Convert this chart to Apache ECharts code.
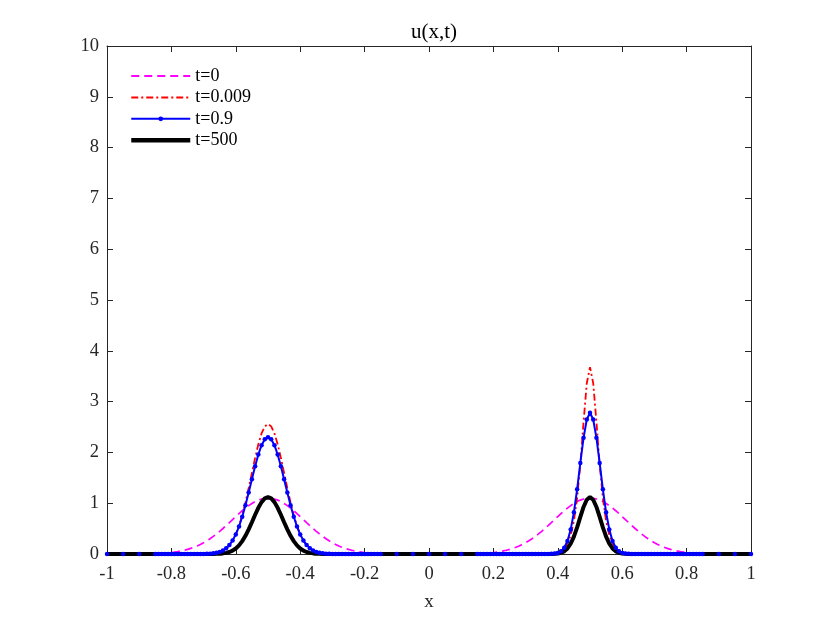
<!DOCTYPE html>
<html>
<head>
<meta charset="utf-8">
<script src="https://cdn.jsdelivr.net/npm/echarts@6/dist/echarts.min.js"></script>
<style>html,body{margin:0;padding:0;background:#fff;}#c{width:830px;height:623px;}</style>
</head>
<body>
<div id="c"></div>
<script>
var seriesNames = ['t=0', 't=0.009', 't=0.9', 't=500'];
var xTicks = [-1, -0.8, -0.6, -0.4, -0.2, 0, 0.2, 0.4, 0.6, 0.8, 1];
var yTicks = [0, 1, 2, 3, 4, 5, 6, 7, 8, 9, 10];

var xs = [-1,-0.95,-0.9,
-0.85,-0.84,-0.83,-0.82,-0.81,-0.8,-0.79,-0.78,-0.77,-0.76,
-0.75,-0.74,-0.73,-0.72,-0.71,-0.7,-0.69,-0.68,-0.67,-0.66,
-0.65,-0.64,-0.63,-0.62,-0.61,-0.6,-0.59,-0.58,-0.57,-0.56,
-0.55,-0.54,-0.53,-0.52,-0.51,-0.5,-0.49,-0.48,-0.47,-0.46,
-0.45,-0.44,-0.43,-0.42,-0.41,-0.4,-0.39,-0.38,-0.37,-0.36,
-0.35,-0.34,-0.33,-0.32,-0.31,-0.3,-0.29,-0.28,-0.27,-0.26,
-0.25,-0.24,-0.23,-0.22,-0.21,-0.2,-0.19,-0.18,-0.17,-0.16,
-0.15,
-0.1,-0.05,0,0.05,0.1,
0.15,0.16,0.17,0.18,0.19,0.2,0.21,0.22,0.23,0.24,
0.25,0.26,0.27,0.28,0.29,0.3,0.31,0.32,0.33,0.34,
0.35,0.36,0.37,0.38,0.39,0.4,0.41,0.42,0.43,0.44,
0.45,0.46,0.47,0.48,0.49,0.5,0.51,0.52,0.53,0.54,
0.55,0.56,0.57,0.58,0.59,0.6,0.61,0.62,0.63,0.64,
0.65,0.66,0.67,0.68,0.69,0.7,0.71,0.72,0.73,0.74,
0.75,0.76,0.77,0.78,0.79,0.8,0.81,0.82,0.83,0.84,
0.85,
0.9,0.95,1];

var u_t0 = [0,0,0,
0.008,0.011,0.014,0.018,0.024,0.030,0.038,0.048,0.060,0.074,
0.090,0.110,0.133,0.159,0.189,0.222,0.260,0.301,0.346,0.395,
0.447,0.502,0.559,0.618,0.678,0.737,0.796,0.852,0.904,0.952,
0.995,1.032,1.061,1.083,1.096,1.100,1.096,1.083,1.061,1.032,
0.995,0.952,0.904,0.852,0.796,0.737,0.678,0.618,0.559,0.502,
0.447,0.395,0.346,0.301,0.260,0.222,0.189,0.159,0.133,0.110,
0.090,0.074,0.060,0.048,0.038,0.030,0.024,0.018,0.014,0.011,
0.008,
0,0,0,0,0,
0.008,0.011,0.014,0.018,0.024,0.030,0.038,0.048,0.060,0.074,
0.090,0.110,0.133,0.159,0.189,0.222,0.260,0.301,0.346,0.395,
0.447,0.502,0.559,0.618,0.678,0.737,0.796,0.852,0.904,0.952,
0.995,1.032,1.061,1.083,1.096,1.100,1.096,1.083,1.061,1.032,
0.995,0.952,0.904,0.852,0.796,0.737,0.678,0.618,0.559,0.502,
0.447,0.395,0.346,0.301,0.260,0.222,0.189,0.159,0.133,0.110,
0.090,0.074,0.060,0.048,0.038,0.030,0.024,0.018,0.014,0.011,
0.008,
0,0,0];

var u_t0009 = [0,0,0,
0,0,0,0,0,0,0,0,0,0,
0,0,0,0,0,0.001,0.003,0.006,0.011,0.020,
0.037,0.063,0.105,0.169,0.261,0.388,0.555,0.765,1.016,1.298,
1.597,1.893,2.160,2.374,2.512,2.560,2.512,2.374,2.160,1.893,
1.597,1.298,1.016,0.765,0.555,0.388,0.261,0.169,0.105,0.063,
0.037,0.020,0.011,0.006,0.003,0.001,0,0,0,0,
0,0,0,0,0,0,0,0,0,0,
0,
0,0,0,0,0,
0,0,0,0,0,0,0,0,0,0,
0,0,0,0,0,0,0,0,0,0,
0.002,0.003,0.006,0.010,0.019,0.034,0.062,0.114,0.207,0.368,
0.651,1.099,1.767,2.598,3.362,3.680,3.362,2.598,1.767,1.099,
0.651,0.368,0.207,0.114,0.062,0.034,0.019,0.010,0.006,0.003,
0.002,0,0,0,0,0,0,0,0,0,
0,0,0,0,0,0,0,0,0,0,
0,
0,0,0];

var u_t09 = [0,0,0,
0,0,0,0,0,0,0,0,0,0,
0,0,0,0,0,0.002,0.004,0.007,0.013,0.024,
0.041,0.069,0.112,0.176,0.265,0.386,0.541,0.733,0.959,1.209,
1.472,1.728,1.958,2.142,2.259,2.300,2.259,2.142,1.958,1.728,
1.472,1.209,0.959,0.733,0.541,0.386,0.265,0.176,0.112,0.069,
0.041,0.024,0.013,0.007,0.004,0.002,0,0,0,0,
0,0,0,0,0,0,0,0,0,0,
0,
0,0,0,0,0,
0,0,0,0,0,0,0,0,0,0,
0,0,0,0,0,0,0,0,0,0,
0,0,0.001,0.003,0.008,0.021,0.053,0.123,0.255,0.480,
0.821,1.274,1.792,2.287,2.648,2.780,2.648,2.287,1.792,1.274,
0.821,0.480,0.255,0.123,0.053,0.021,0.008,0.003,0.001,0,
0,0,0,0,0,0,0,0,0,0,
0,0,0,0,0,0,0,0,0,0,
0,
0,0,0];

var u_t500 = [0,0,0,
0,0,0,0,0,0,0,0,0,0,
0,0,0,0,0,0,0,0,0.001,0.003,
0.006,0.012,0.022,0.039,0.067,0.109,0.170,0.253,0.358,0.485,
0.626,0.772,0.909,1.021,1.094,1.120,1.094,1.021,0.909,0.772,
0.626,0.485,0.358,0.253,0.170,0.109,0.067,0.039,0.022,0.012,
0.006,0.003,0.001,0,0,0,0,0,0,0,
0,0,0,0,0,0,0,0,0,0,
0,
0,0,0,0,0,
0,0,0,0,0,0,0,0,0,0,
0,0,0,0,0,0,0,0,0,0,
0,0,0,0.001,0.003,0.010,0.024,0.053,0.109,0.202,
0.341,0.523,0.730,0.926,1.068,1.120,1.068,0.926,0.730,0.523,
0.341,0.202,0.109,0.053,0.024,0.010,0.003,0.001,0,0,
0,0,0,0,0,0,0,0,0,0,
0,0,0,0,0,0,0,0,0,0,
0,
0,0,0];

function pairs(arr) { return xs.map(function (x, i) { return [x, arr[i]]; }); }

var FONT = 'Liberation Serif';
var AX = '#262626';
var chart = echarts.init(document.getElementById('c'), null, { renderer: 'canvas' });

function xAxisDef(pos, showLabel) {
  return {
    type: 'value', position: pos, min: xTicks[0], max: xTicks[xTicks.length - 1],
    interval: 0.2,
    name: showLabel ? 'x' : '', nameLocation: 'middle', nameGap: 39,
    nameTextStyle: { fontFamily: FONT, fontSize: 19, color: AX },
    axisLine: { show: true, onZero: false, lineStyle: { color: AX, width: 1 } },
    axisTick: { show: true, inside: true, length: 6, lineStyle: { color: AX } },
    axisLabel: { show: showLabel, margin: 11, fontFamily: FONT, fontSize: 18.5, color: AX,
      formatter: function (v) { return String(+v.toFixed(1)); } },
    splitLine: { show: false }
  };
}
function yAxisDef(pos, showLabel) {
  return {
    type: 'value', position: pos, min: yTicks[0], max: yTicks[yTicks.length - 1], interval: 1,
    axisLine: { show: true, onZero: false, lineStyle: { color: AX, width: 1 } },
    axisTick: { show: true, inside: true, length: 6, lineStyle: { color: AX } },
    axisLabel: { show: showLabel, margin: 8, fontFamily: FONT, fontSize: 18.5, color: AX },
    splitLine: { show: false }
  };
}

chart.setOption({
  animation: false,
  backgroundColor: '#fff',
  title: {
    text: 'u(x,t)', left: 429, top: 17, textAlign: 'center',
    textStyle: { fontFamily: FONT, fontSize: 21, fontWeight: 'normal', color: '#000' }
  },
  grid: { left: 107, top: 46, width: 644, height: 508, containLabel: false },
  legend: {
    orient: 'vertical', left: 129, top: 67, padding: 0,
    itemWidth: 59, itemHeight: 6, itemGap: 3.4,
    textStyle: { fontFamily: FONT, fontSize: 18, color: '#000', lineHeight: 18 },
    data: [
      { name: seriesNames[0], itemStyle: { opacity: 0 }, lineStyle: { width: 2, type: [8, 5], color: '#ff00ff' } },
      { name: seriesNames[1], itemStyle: { opacity: 0 }, lineStyle: { width: 2, type: [7, 3, 2, 3], color: '#ff0000' } },
      { name: seriesNames[2], lineStyle: { width: 2, color: '#0000ff' } },
      { name: seriesNames[3], itemStyle: { opacity: 0 }, lineStyle: { width: 4.5, color: '#000000' } }
    ]
  },
  xAxis: [xAxisDef('bottom', true), xAxisDef('top', false)],
  yAxis: [yAxisDef('left', true), yAxisDef('right', false)],
  series: [
    { name: seriesNames[0], type: 'line', data: pairs(u_t0), symbol: 'none',
      lineStyle: { color: '#ff00ff', width: 1.7, type: [8, 5] }, itemStyle: { color: '#ff00ff' } },
    { name: seriesNames[1], type: 'line', data: pairs(u_t0009), symbol: 'none',
      lineStyle: { color: '#ff0000', width: 1.8, type: [7, 3, 2, 3] }, itemStyle: { color: '#ff0000' } },
    { name: seriesNames[2], type: 'line', data: pairs(u_t09), symbol: 'circle', symbolSize: 4.5, showSymbol: true,
      lineStyle: { color: '#0000ff', width: 2 }, itemStyle: { color: '#0000ff' } },
    { name: seriesNames[3], type: 'line', data: pairs(u_t500), symbol: 'none',
      lineStyle: { color: '#000000', width: 4 }, itemStyle: { color: '#000000' } }
  ]
});
</script>
</body>
</html>
